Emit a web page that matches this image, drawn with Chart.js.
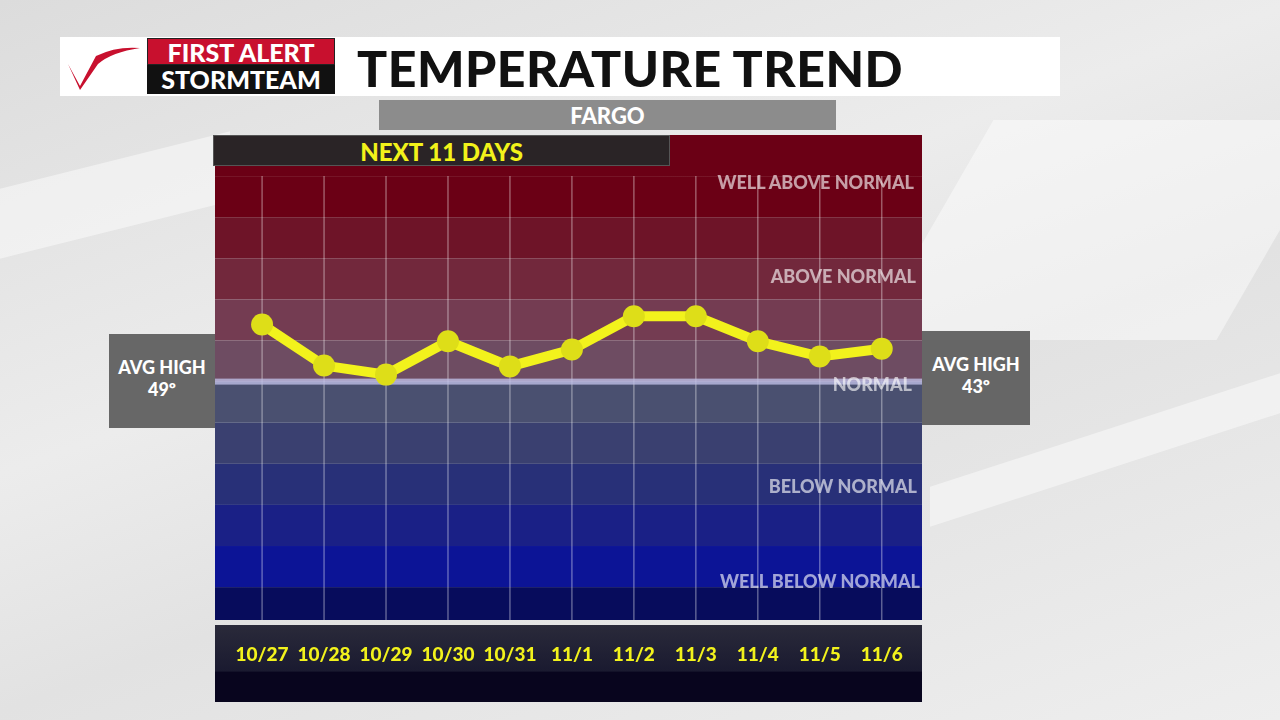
<!DOCTYPE html>
<html>
<head>
<meta charset="utf-8">
<script src="https://cdn.jsdelivr.net/npm/chart.js@4"></script>
<style>
  body { margin: 0; width: 1280px; height: 720px; overflow: hidden; position: relative;
    font-family: Lato, "Open Sans", sans-serif; font-weight: 900;
    background: linear-gradient(160deg, #dcdcdc 0%, #ececec 40%, #e2e2e2 60%, #eeeeee 100%); }
  .abs { position: absolute; }
  .shape { position: absolute; background: rgba(255,255,255,0.45); }
  #topbar { left: 60px; top: 37px; width: 1000px; height: 59px; background: #fff; }
  #title { left: 357px; top: 38px; font-size: 50px; color: #111; letter-spacing: 0.5px; }
  #fa { left: 147px; top: 38px; width: 188px; height: 27px; background: #c8102e; color: #fff; font-size: 25px; line-height: 27px; text-align: center; border: 1px solid #222; box-sizing: border-box; }
  #st { left: 147px; top: 65px; width: 188px; height: 29px; background: #111; color: #fff; font-size: 25px; line-height: 29px; text-align: center; }
  #fargo { left: 379px; top: 100px; width: 457px; height: 30px; background: #8c8c8c; color: #fff; font-size: 22px; line-height: 31px; text-align: center; }
  #next { left: 213px; top: 135px; width: 457px; height: 31px; background: #2a2426; color: #f2f21a; font-size: 24px; line-height: 32px; text-align: center; border: 1px solid #555; box-sizing: border-box; }
  #strip { left: 215px; top: 625px; width: 707px; height: 77px; background: linear-gradient(#2a2a3a 0%, #1a1a30 60%, #08051e 61%, #08051e 100%); }
  .side { position: absolute; background: rgba(80,80,80,0.85); color: #fff; font-size: 18px; line-height: 22px; text-align: center; padding-top: 22px; box-sizing: border-box; }
  .lbl { position: absolute; right: 366px; color: rgba(255,255,255,0.62); font-size: 18px; }
  canvas { position: absolute; left: 215px; top: 135px; }
</style>
</head>
<body>
<div class="shape" style="left:0;top:160px;width:230px;height:70px;transform:skewY(-14deg)"></div>
<div class="shape" style="left:930px;top:120px;width:350px;height:220px;transform:skewX(-30deg)"></div>
<div class="shape" style="left:930px;top:430px;width:350px;height:40px;transform:skewY(-18deg)"></div>
<div class="abs" id="topbar"></div>
<svg class="abs" style="left:66px;top:42px" width="80" height="50"><path d="M2 22 L14 44 L30 14 Q50 4 74 6 Q46 10 32 22 L14 48 Z" fill="#c8102e"/></svg>
<div class="abs" id="fa">FIRST ALERT</div>
<div class="abs" id="st">STORMTEAM</div>
<div class="abs" id="title">TEMPERATURE TREND</div>
<div class="abs" id="fargo">FARGO</div>
<div class="abs" id="strip"></div>
<div class="side" style="left:109px;top:334px;width:106px;height:94px">AVG HIGH<br>49º</div>
<div class="side" style="left:922px;top:331px;width:108px;height:94px">AVG HIGH<br>43º</div>
<canvas id="chart" width="707" height="567"></canvas>
<div class="abs" id="next">NEXT 11 DAYS</div>
<div class="lbl" style="top:171px">WELL ABOVE NORMAL</div>
<div class="lbl" style="top:265px;right:364px">ABOVE NORMAL</div>
<div class="lbl" style="top:373px;right:368px">NORMAL</div>
<div class="lbl" style="top:475px;right:363px">BELOW NORMAL</div>
<div class="lbl" style="top:570px;right:360px">WELL BELOW NORMAL</div>
<script>
// dias e desvio em relação ao normal (faixas)
const days = ['10/27', '10/28', '10/29', '10/30', '10/31', '11/1', '11/2', '11/3', '11/4', '11/5', '11/6'];
const departure = [1.39, 0.39, 0.17, 0.98, 0.37, 0.78, 1.59, 1.59, 0.98, 0.61, 0.80];
const bandEdges = [6, 5, 4, 3, 2, 1, 0, -1, -2, -3, -4, -5, -5.8];
const bandColors = ['#6b0015', '#6b0015', '#6e1428', '#72283c', '#743c52', '#6e4c62',
  '#4a5070', '#3a4070', '#283078', '#1a2086', '#0c1496', '#070c5c'];

const bandsPlugin = {
  id: 'bands',
  beforeDatasetsDraw(chart) {
    const { ctx, chartArea: a, scales: { x, y } } = chart;
    ctx.save();
    for (let i = 0; i < bandColors.length; i++) {
      const t = y.getPixelForValue(bandEdges[i]);
      const b = y.getPixelForValue(bandEdges[i + 1]);
      ctx.fillStyle = bandColors[i];
      ctx.fillRect(a.left, t, a.right - a.left, b - t);
    }
    ctx.strokeStyle = 'rgba(255,255,255,0.35)';
    ctx.lineWidth = 1.5;
    days.forEach((d, i) => {
      const px = x.getPixelForValue(i);
      ctx.beginPath();
      ctx.moveTo(px, y.getPixelForValue(5));
      ctx.lineTo(px, a.bottom);
      ctx.stroke();
    });
    const ny = y.getPixelForValue(0);
    ctx.fillStyle = 'rgba(190,190,230,0.8)';
    ctx.fillRect(a.left, ny - 3, a.right - a.left, 6);
    ctx.restore();
  }
};

new Chart(document.getElementById('chart'), {
  type: 'line',
  data: {
    datasets: [{
      data: departure.map((v, i) => ({ x: i, y: v })),
      borderColor: '#f2f21c',
      borderWidth: 10,
      pointRadius: 11,
      pointBackgroundColor: '#dede18',
      pointBorderWidth: 0,
      tension: 0
    }]
  },
  options: {
    responsive: false,
    animation: false,
    layout: { autoPadding: false, padding: { top: 0, left: 0, right: 0, bottom: 82 } },
    plugins: { legend: { display: false }, tooltip: { enabled: false } },
    scales: {
      x: {
        type: 'linear', min: -0.76, max: 10.65,
        display: false
      },
      y: {
        min: -5.8, max: 6,
        display: false
      }
    }
  },
  plugins: [bandsPlugin, {
    id: 'dayLabels',
    afterDraw(chart) {
      const { ctx, scales: { x } } = chart;
      ctx.save();
      ctx.fillStyle = '#f2f21c';
      ctx.font = '900 19px Lato';
      ctx.textAlign = 'center';
      ctx.textBaseline = 'middle';
      days.forEach((d, i) => ctx.fillText(d, x.getPixelForValue(i), 520));
      ctx.restore();
    }
  }]
});
</script>
</body>
</html>
